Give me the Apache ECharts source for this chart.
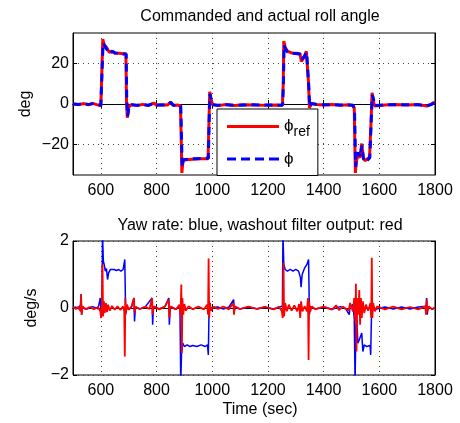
<!DOCTYPE html>
<html>
<head>
<meta charset="utf-8">
<script src="https://cdn.jsdelivr.net/npm/echarts@6/dist/echarts.min.js"></script>
<style>
html,body{margin:0;padding:0;background:#fff;}
#main{width:460px;height:423px;}
</style>
</head>
<body>
<div id="main"></div>
<script>
var xTicks = [600, 800, 1000, 1200, 1400, 1600, 1800];
var rollTicks = [-20, 0, 20];
var yawTicks = [-2, 0, 2];

// commanded roll angle (deg)
var rollRef = [[500,0],[520,-0.3],[540,0.2],[555,-0.4],[570,0.3],[585,-0.3],[600,-0.8],[604,-1],[607,32],[612,29],[620,28],[630,25.5],[640,26],[650,25],[665,25],[680,24.8],[690,24.8],[692,2],[695,-6.8],[700,-1.5],[710,-0.3],[730,-0.8],[750,-0.2],[770,-0.8],[790,0.5],[800,-0.6],[820,-0.4],[840,-0.5],[850,1],[860,-0.8],[875,-0.5],[886,-1],[889,-20],[891,-34],[895,-28],[905,-27.5],[930,-27.2],[960,-27],[985,-27],[988,-10],[991,6],[996,2],[1002,-0.3],[1020,-0.8],[1050,-0.3],[1080,-0.7],[1110,-0.4],[1150,-0.5],[1200,-0.6],[1230,-0.5],[1252,-0.6],[1255,10],[1257,31],[1262,28],[1270,26],[1285,25.2],[1305,25],[1315,24.8],[1320,21],[1330,23],[1338,26],[1343,25.5],[1346,10],[1349,-2],[1355,0.3],[1375,-0.2],[1400,-0.5],[1430,-0.3],[1460,-0.6],[1490,-0.4],[1505,-0.7],[1510,-2],[1514,-34],[1518,-28],[1523,-25],[1530,-26.5],[1537,-19.5],[1542,-26],[1548,-28],[1558,-27],[1565,-26],[1570,-10],[1574,5.5],[1578,2],[1583,-1],[1590,-0.3],[1620,-0.5],[1650,-0.3],[1700,-0.5],[1740,-0.3],[1770,-1],[1785,-0.2],[1795,0.7],[1800,0.3]];

// actual roll angle (deg)
var roll = [[500,0],[520,-0.2],[540,0.3],[555,-0.3],[570,0.2],[585,-0.4],[600,-0.6],[605,-1],[608,30],[613,29],[621,27],[631,25],[641,26],[651,25.2],[666,25],[681,24.6],[691,24.6],[693,3],[696,-6],[701,-1.8],[711,-0.4],[731,-0.6],[751,-0.3],[771,-0.6],[791,0.4],[801,-0.5],[821,-0.5],[841,-0.4],[851,0.8],[861,-0.6],[876,-0.6],[887,-1],[890,-18],[892,-31],[896,-27.5],[906,-27.3],[931,-27],[961,-26.8],[986,-26.8],[989,-8],[992,5],[997,1.5],[1003,-0.4],[1021,-0.6],[1051,-0.4],[1081,-0.6],[1111,-0.5],[1151,-0.4],[1201,-0.5],[1231,-0.6],[1253,-0.5],[1256,12],[1258,29],[1263,27],[1271,25.6],[1286,25],[1306,24.8],[1316,24.5],[1321,22],[1331,23.5],[1339,25.5],[1344,25],[1347,8],[1350,-1.5],[1356,0.2],[1376,-0.3],[1401,-0.4],[1431,-0.4],[1461,-0.5],[1491,-0.5],[1506,-0.6],[1511,-3],[1515,-31],[1519,-25],[1524,-24],[1531,-26],[1538,-20.5],[1543,-27],[1549,-28.5],[1559,-27.5],[1566,-26.5],[1571,-8],[1575,4.5],[1579,2.5],[1584,-0.8],[1591,-0.4],[1621,-0.4],[1651,-0.4],[1701,-0.4],[1741,-0.4],[1771,-0.9],[1786,-0.3],[1796,0.5],[1800,0.2]];

// yaw rate (deg/s)
var yawRate = [[500,0],[510,0.03],[520,-0.03],[527,0.1],[529,0.42],[531,-0.2],[534,0.02],[550,-0.03],[570,0.04],[590,-0.02],[598,0.3],[601,-0.2],[604,0.05],[606,2.2],[609,1.4],[612,1.3],[616,1.1],[620,1.18],[624,0.85],[628,1.05],[634,1.15],[640,1.1],[648,1.15],[656,1.12],[664,1.15],[672,1.1],[680,1.15],[684,1.1],[686,1.45],[689,-0.2],[693,0.05],[700,-0.05],[710,0.03],[719,0.3],[721,-0.4],[724,0.02],[740,-0.03],[760,0.04],[784,0.3],[786,-0.5],[789,0.03],[810,-0.02],[830,0.04],[844,0.3],[846,-0.5],[849,0.02],[870,-0.04],[884,0.05],[887,-2.2],[890,-1.3],[894,-1.05],[900,-1.15],[910,-1.1],[920,-1.15],[930,-1.12],[945,-1.15],[960,-1.1],[975,-1.15],[983,-1.1],[986,-1.4],[989,0.2],[993,0],[1000,-0.04],[1020,0.03],[1040,-0.03],[1060,0.03],[1077,0.25],[1079,-0.1],[1082,0.02],[1100,-0.03],[1130,0.03],[1160,-0.02],[1190,0.03],[1220,-0.03],[1240,0.03],[1252,0.05],[1254,2.2],[1257,1.3],[1262,1.15],[1270,1.1],[1280,1.15],[1290,1.1],[1300,1.15],[1310,1.1],[1317,0.9],[1319,0.62],[1323,1.0],[1332,1.2],[1340,1.3],[1346,1.45],[1349,-0.2],[1353,0.04],[1370,-0.03],[1400,0.03],[1430,-0.04],[1460,0.04],[1480,-0.03],[1492,-0.2],[1495,0.05],[1505,0.1],[1510,-0.3],[1513,-2.2],[1516,-0.5],[1519,-0.3],[1523,-1.05],[1528,-0.95],[1533,-1.0],[1537,-0.75],[1541,-1.3],[1546,-1.1],[1555,-1.15],[1562,-1.1],[1567,-1.12],[1569,-1.4],[1573,0.2],[1577,0],[1590,-0.03],[1620,0.03],[1650,-0.03],[1680,0.03],[1710,-0.03],[1740,0.03],[1768,0.05],[1770,0.3],[1772,-0.2],[1775,0.03],[1790,-0.03],[1800,0]];

// washout filter output (deg/s)
var washout = [[500,0.02],[510,-0.03],[520,0.04],[527,-0.1],[529,0.4],[531,-0.2],[534,0.05],[545,-0.04],[560,0.03],[575,-0.04],[590,0.03],[598,-0.1],[601,-0.3],[604,0.2],[606,1.3],[608,-0.25],[611,0.2],[614,-0.15],[618,0.15],[622,-0.12],[626,0.1],[632,-0.08],[640,0.06],[650,-0.05],[660,0.05],[670,-0.06],[680,0.05],[684,-0.1],[686,-1.45],[688,0.3],[690,-0.15],[694,0.1],[700,-0.05],[710,0.04],[719,0.3],[721,-0.15],[725,0.04],[740,-0.03],[760,0.04],[775,-0.03],[784,0.3],[786,-0.2],[790,0.05],[810,-0.04],[830,0.04],[844,0.25],[846,-0.3],[850,0.05],[870,-0.04],[882,0.1],[886,-0.2],[889,0.7],[891,-1.35],[893,0.3],[896,-0.2],[900,0.12],[905,-0.08],[915,0.05],[930,-0.04],[950,0.04],[970,-0.04],[982,0.1],[985,-0.2],[987,1.48],[989,-0.3],[992,0.15],[996,-0.08],[1005,0.04],[1020,-0.03],[1040,0.04],[1060,-0.04],[1076,0.15],[1078,-0.2],[1081,0.05],[1100,-0.03],[1130,0.04],[1160,-0.03],[1190,0.03],[1220,-0.04],[1240,0.03],[1250,-0.1],[1253,-0.3],[1256,1.35],[1258,-0.25],[1262,0.15],[1268,-0.1],[1275,0.1],[1285,-0.08],[1295,0.08],[1305,-0.1],[1312,0.12],[1316,-0.3],[1319,0.2],[1324,-0.1],[1332,0.06],[1340,-0.1],[1344,0.3],[1346,-1.55],[1348,0.2],[1352,-0.1],[1358,0.05],[1370,-0.04],[1400,0.04],[1430,-0.05],[1445,0.08],[1455,-0.06],[1470,0.04],[1490,-0.08],[1495,0.15],[1505,-0.1],[1510,0.3],[1514,-0.4],[1516,0.72],[1518,-1.3],[1521,0.3],[1525,-0.2],[1528,0.54],[1531,-0.5],[1534,0.3],[1537,-0.3],[1541,0.2],[1546,-0.15],[1552,0.1],[1560,-0.08],[1568,0.15],[1571,-0.3],[1573,1.5],[1575,-0.3],[1578,0.15],[1584,-0.1],[1592,0.05],[1620,-0.04],[1650,0.04],[1680,-0.04],[1710,0.03],[1740,-0.04],[1765,0.05],[1768,-0.2],[1770,0.25],[1773,-0.1],[1778,0.05],[1790,-0.04],[1800,0.02]];

var font = 'Liberation Sans, Arial, Helvetica, sans-serif';
var fs = 16;
var myChart = echarts.init(document.getElementById('main'));

function num(v) { return v < 0 ? '\u2212' + Math.abs(v) : '' + v; }

function xAx(grid, pos, labels) {
    return {
        type: 'value', gridIndex: grid, position: pos, min: 500, max: 1800,
        axisLine: {show: true, lineStyle: {color: '#000', width: 1}},
        axisTick: {show: true, inside: true, length: 4, customValues: xTicks, lineStyle: {color: '#000'}},
        axisLabel: {show: labels, customValues: xTicks, color: '#000', fontSize: fs, fontFamily: font, margin: 8, formatter: num},
        splitLine: {show: labels, customValues: xTicks, lineStyle: {color: '#444', type: [1, 4], width: 1}}
    };
}
function yAx(grid, pos, labels, mn, mx, ticks) {
    return {
        type: 'value', gridIndex: grid, position: pos, min: mn, max: mx,
        axisLine: {show: true, lineStyle: {color: '#000', width: 1}},
        axisTick: {show: true, inside: true, length: 4, customValues: ticks, lineStyle: {color: '#000'}},
        axisLabel: {show: labels, customValues: ticks, color: '#000', fontSize: fs, fontFamily: font, margin: 4, formatter: num},
        splitLine: {show: labels, customValues: ticks, lineStyle: {color: '#444', type: [1, 4], width: 1}}
    };
}

var option = {
    animation: false,
    backgroundColor: '#fff',
    title: [
        {text: 'Commanded and actual roll angle', left: 255, top: 4, textAlign: 'center',
         textStyle: {fontSize: fs, fontWeight: 'normal', color: '#000', fontFamily: font}},
        {text: 'Yaw rate: blue, washout filter output: red', left: 255, top: 213, textAlign: 'center',
         textStyle: {fontSize: fs, fontWeight: 'normal', color: '#000', fontFamily: font}},
        {text: 'Time (sec)', left: 255, top: 397, textAlign: 'center',
         textStyle: {fontSize: fs, fontWeight: 'normal', color: '#000', fontFamily: font}}
    ],
    graphic: [
        {type: 'text', x: 26, y: 104, rotation: Math.PI / 2,
         style: {text: 'deg', font: fs + 'px ' + font, fill: '#000', align: 'center', verticalAlign: 'middle'}},
        {type: 'text', x: 32, y: 308, rotation: Math.PI / 2,
         style: {text: 'deg/s', font: fs + 'px ' + font, fill: '#000', align: 'center', verticalAlign: 'middle'}}
    ],
    legend: {
        data: [
            {name: 'ref', icon: 'path://M0,0H52V3H0Z'},
            {name: 'act', icon: 'path://M0,0H9V3H0ZM14,0H23V3H14ZM28,0H37V3H28ZM42,0H52V3H42Z'}
        ],
        orient: 'vertical',
        left: 217, top: 109,
        padding: [9, 8, 8, 10],
        itemWidth: 52, itemHeight: 3, itemGap: 11,
        backgroundColor: '#fff',
        borderColor: '#000', borderWidth: 1,
        formatter: function (name) {
            return name === 'ref' ? '{a|\u03d5}{s|ref}' : '{a|\u03d5}';
        },
        textStyle: {
            color: '#000', fontFamily: font,
            rich: {
                a: {fontSize: 17, color: '#000', fontFamily: font},
                s: {fontSize: 14, color: '#000', fontFamily: font, padding: [12, 0, 0, 0]}
            }
        }
    },
    grid: [
        {left: 73, right: 25, top: 33, height: 142, show: true, borderColor: '#000', borderWidth: 1},
        {left: 73, right: 25, top: 241, height: 134, show: true, borderColor: '#000', borderWidth: 1}
    ],
    xAxis: [xAx(0, 'bottom', true), xAx(0, 'top', false), xAx(1, 'bottom', true), xAx(1, 'top', false)],
    yAxis: [yAx(0, 'left', true, -35, 35, rollTicks), yAx(0, 'right', false, -35, 35, rollTicks),
            yAx(1, 'left', true, -2, 2, yawTicks), yAx(1, 'right', false, -2, 2, yawTicks)],
    series: [
        {name: 'ref', type: 'line', xAxisIndex: 0, yAxisIndex: 0, data: rollRef, symbol: 'none',
         lineStyle: {color: '#ff0000', width: 3}, itemStyle: {color: '#ff0000'}, z: 3},
        {name: 'act', type: 'line', xAxisIndex: 0, yAxisIndex: 0, data: roll, symbol: 'none',
         lineStyle: {color: '#0000ff', width: 3, type: [8, 5]}, itemStyle: {color: '#0000ff'}, z: 4},
        {name: 'yaw', type: 'line', xAxisIndex: 2, yAxisIndex: 2, data: yawRate, symbol: 'none',
         lineStyle: {color: '#0000ff', width: 1.5}, z: 3},
        {name: 'washout', type: 'line', xAxisIndex: 2, yAxisIndex: 2, data: washout, symbol: 'none',
         lineStyle: {color: '#ff0000', width: 1.8}, z: 4}
    ]
};
myChart.setOption(option);
</script>
</body>
</html>
